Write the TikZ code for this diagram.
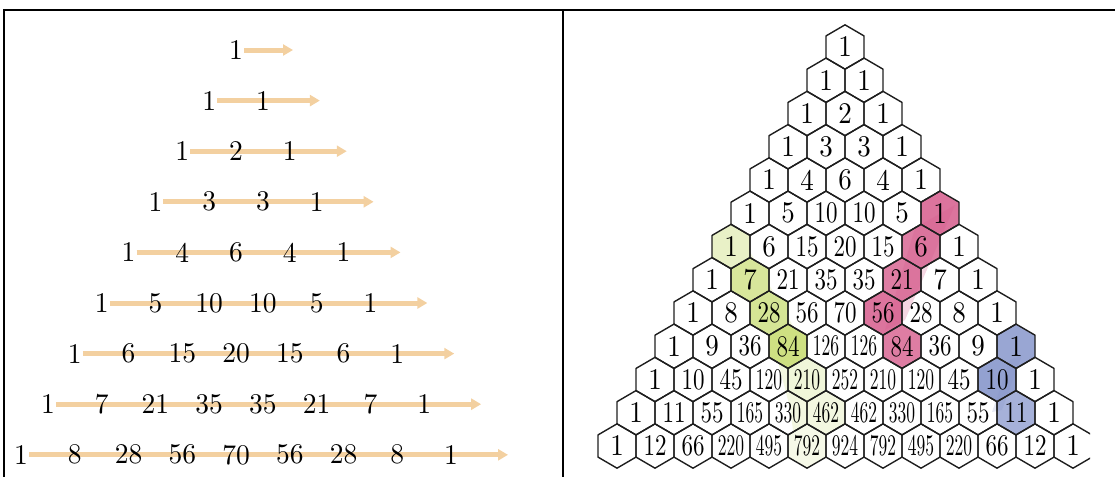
\documentclass[tikz,border=0pt]{standalone}
\usepackage{graphicx}
\usetikzlibrary{arrows.meta,calc}
\pgfdeclarelayer{bg}
\pgfsetlayers{bg,main}
\definecolor{arrowc}{RGB}{243,208,160}
\definecolor{hexc}{RGB}{30,30,30}
\definecolor{pinkc}{RGB}{214,92,140}
\definecolor{greenc}{RGB}{206,224,130}
\definecolor{bluec}{RGB}{128,144,200}
\newcommand{\fitnum}[1]{\ifnum#1>99 \scalebox{1.75}[3.0]{#1}\else\ifnum#1>9 \scalebox{2.3}[3.0]{#1}\else \scalebox{2.7}[3.0]{#1}\fi\fi}
\newcommand{\bignum}[1]{\scalebox{2.75}[2.85]{#1}}
\newcommand{\hexat}[3][]{%
  \pgfmathsetmacro{\hcx}{845+(#3-#2/2)*38}%
  \pgfmathsetmacro{\hcy}{47+#2*33.25}%
  \path[#1] (\hcx,\hcy) ++(0,-22.17) -- ++(19,11.085) -- ++(0,22.17) -- ++(-19,11.085) -- ++(-19,-11.085) -- ++(0,-22.17) -- cycle;}
\tikzset{
  framel/.style={line width=2.2pt, black},
  hexedge/.style={draw=hexc, line width=1.4pt, line join=round},
  hexnum/.style={inner sep=0pt, font=\fontsize{10}{10}\selectfont},
  pnum/.style={inner sep=0pt, font=\fontsize{10}{10}\selectfont},
  parrow/.style={draw=arrowc, line width=5pt, -{Triangle[length=10pt,width=11pt]}},
}
\begin{document}
\begin{tikzpicture}[x=1pt,y=-1pt]
\useasboundingbox (0,0) rectangle (1115,477);
% frames
\draw[framel] (3,10) -- (1115,10);
\draw[framel] (4,10) -- (4,477);
\draw[framel] (563,10) -- (563,477);

% ---------- left panel ----------
\foreach \row [count=\n from 0] in {{1},{1,1},{1,2,1},{1,3,3,1},{1,4,6,4,1},{1,5,10,10,5,1},{1,6,15,20,15,6,1},{1,7,21,35,35,21,7,1},{1,8,28,56,70,56,28,8,1}} {
  \foreach \v [count=\k from 0] in \row {
    \pgfmathsetmacro{\px}{236+(\k-\n/2)*53.75}
    \pgfmathsetmacro{\py}{50+\n*50.6}
    \node[pnum] (p-\n-\k) at (\px,\py) {\bignum{\v}};
  }
  \pgfmathsetmacro{\ex}{236+(\n/2)*53.75+57}
  \pgfmathsetmacro{\py}{50+\n*50.6}
  \coordinate (e-\n) at (\ex,\py);
  \begin{pgfonlayer}{bg}
    \draw[parrow] ([xshift=1pt]p-\n-0.east) -- (e-\n);
  \end{pgfonlayer}
}

% ---------- right panel ----------
\begin{scope}
\clip (566,12) rectangle (1090,477);
\begin{pgfonlayer}{bg}
  % green
  \fill[greenc, opacity=0.25] (722,238) -- (742,238) -- (800,338) -- (822,405) -- (818,452) -- (796,452) -- (790,408) -- (776,354) -- cycle;
  \hexat[fill=greenc!45]{6}{0}
  \hexat[fill=greenc!80]{7}{1}
  \hexat[fill=greenc!85]{8}{2}
  \hexat[fill=greenc]{9}{3}
  \hexat[fill=greenc!30]{10}{4}
  \hexat[fill=greenc!25]{11}{5}
  \hexat[fill=greenc!18]{12}{5}
  % pink
  \hexat[fill=pinkc!85]{5}{5}
  \hexat[fill=pinkc!80]{6}{5}
  \hexat[fill=pinkc!80]{7}{5}
  \hexat[fill=pinkc!85]{8}{5}
  \hexat[fill=pinkc!80]{9}{6}
  \fill[pinkc, opacity=0.25] (915,228) -- (955,205) -- (905,320) -- (885,330) -- cycle;
  % blue
  \hexat[fill=bluec!80]{9}{9}
  \hexat[fill=bluec!85]{10}{9}
  \hexat[fill=bluec!70]{11}{10}
  \fill[bluec, opacity=0.2] (1010,360) -- (1022,355) -- (1002,410) -- (992,412) -- cycle;
\end{pgfonlayer}
\foreach \row [count=\n from 0] in {{1},{1,1},{1,2,1},{1,3,3,1},{1,4,6,4,1},{1,5,10,10,5,1},{1,6,15,20,15,6,1},{1,7,21,35,35,21,7,1},{1,8,28,56,70,56,28,8,1},{1,9,36,84,126,126,84,36,9,1},{1,10,45,120,210,252,210,120,45,10,1},{1,11,55,165,330,462,462,330,165,55,11,1},{1,12,66,220,495,792,924,792,495,220,66,12,1}} {
  \foreach \v [count=\k from 0] in \row {
    \hexat[hexedge]{\n}{\k}
    \node[hexnum] (h-\n-\k) at (\hcx,\hcy) {\fitnum{\v}};
  }
}
\end{scope}
\end{tikzpicture}
\end{document}
